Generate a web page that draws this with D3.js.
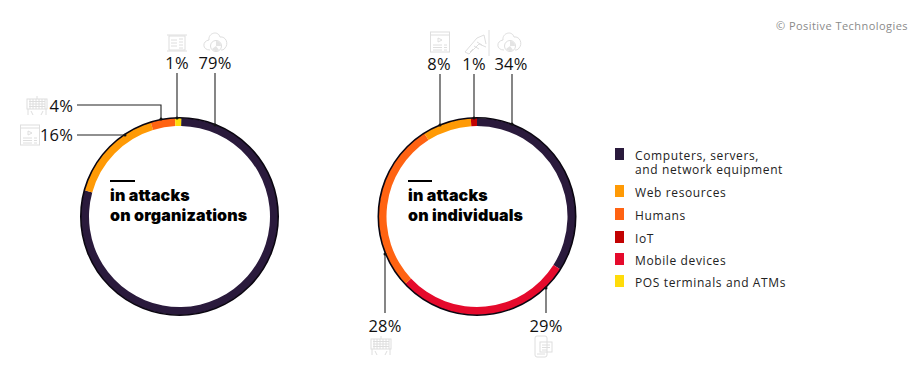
<!DOCTYPE html>
<html>
<head>
<meta charset="utf-8">
<script src="https://cdn.jsdelivr.net/npm/d3@7"></script>
<style>
html, body { margin: 0; padding: 0; background: #fff; }
text { font-family: "Open Sans", sans-serif; fill: #111; }
.pct { font-size: 16.5px; letter-spacing: 0.2px; }
.legend text { font-size: 12px; letter-spacing: 0.62px; fill: #222; }
.title { font-family: Inter, sans-serif; font-size: 16px; font-weight: 900; fill: #000; letter-spacing: 0.15px; }
.credit { font-size: 11px; fill: #8a8a8a; letter-spacing: 0.45px; }
.icon * { fill: none; stroke: #dedede; stroke-width: 1; }
.icon .solid { fill: #e4e4e4; stroke: none; }
</style>
</head>
<body>
<svg id="chart" width="920" height="379"></svg>
<script>
const WIDTH = 920;
const HEIGHT = 379;
const RADIUS = 99.5;
const BAND = 9;

var categories = ['Computers, servers,\nand network equipment', 'Web resources', 'Humans', 'IoT', 'Mobile devices', 'POS terminals and ATMs'];
var colors = ['#2a1a3c', '#ff9a05', '#ff6312', '#c20202', '#e50a2c', '#ffdc0a'];

// clockwise order, as on the rings
var orgCategories = [0, 1, 2, 5];
var orgValues = [79, 16, 4, 1];
var indCategories = [0, 4, 2, 1, 3];
var indValues = [34, 29, 28, 8, 1];

var svg = d3.select('#chart');
var colorScale = d3.scaleOrdinal().domain(d3.range(categories.length)).range(colors);

var translate = function (x, y) {
    return 'translate(' + x + ',' + y + ')';
};

var drawRing = function (cx, cy, cats, values, startDeg) {
    var start = startDeg * Math.PI / 180;
    var pie = d3.pie().sort(null).startAngle(start).endAngle(start + 2 * Math.PI);
    var arc = d3.arc().innerRadius(RADIUS - BAND).outerRadius(RADIUS - 1);
    var g = svg.append('g').attr('transform', translate(cx, cy));
    g.selectAll('path').data(pie(values)).enter().append('path')
        .attr('d', arc)
        .attr('fill', function (d, i) { return colorScale(cats[i]); });
    g.append('circle')
        .attr('r', RADIUS - 0.8)
        .attr('fill', 'none')
        .attr('stroke', '#0a0510')
        .attr('stroke-width', 1.6);
};

drawRing(179.5, 216.5, orgCategories, orgValues, 1);
drawRing(477, 216.5, indCategories, indValues, 0);

// leader lines
var leader = function (pts) {
    svg.append('path')
        .attr('d', d3.line()(pts))
        .attr('fill', 'none')
        .attr('stroke', '#222')
        .attr('stroke-width', 1.1);
    var end = pts[pts.length - 1];
    svg.append('circle').attr('cx', end[0]).attr('cy', end[1]).attr('r', 1.5).attr('fill', '#111');
};
leader([[215, 73], [215, 125]]);
leader([[177, 73], [177, 118]]);
leader([[77, 105], [161, 105], [161, 119]]);
leader([[77, 135], [125, 135]]);
leader([[440, 74], [440, 125]]);
leader([[474, 74], [474, 118]]);
leader([[512, 74], [512, 124]]);
leader([[385, 313], [385, 254]]);
leader([[546, 313], [546, 288]]);

// value labels
var label = function (x, y, value, anchor) {
    svg.append('text')
        .attr('class', 'pct')
        .attr('x', x)
        .attr('y', y)
        .attr('text-anchor', anchor)
        .text(value + '%');
};
label(177, 69, orgValues[3], 'middle');
label(215, 69, orgValues[0], 'middle');
label(73, 112, orgValues[2], 'end');
label(73, 141, orgValues[1], 'end');
label(439, 70, indValues[3], 'middle');
label(474, 70, indValues[4], 'middle');
label(511, 70, indValues[0], 'middle');
label(385, 332, indValues[2], 'middle');
label(546, 332, indValues[1], 'middle');

// pale icons
var iconCloud = function (g) {
    g.append('path').attr('d', 'M-5,8 C-13,8 -13,-1 -6,-2 C-7,-9 3,-12 5,-5 C11,-6 14,2 10,6 C9,8 7,8 6,8');
    g.append('circle').attr('cx', 1).attr('cy', 4).attr('r', 5.5);
    g.append('path').attr('class', 'solid').attr('d', 'M1,4 V-1 A5,5 0 0 1 6,4 Z');
    g.append('path').attr('class', 'solid').attr('d', 'M1,4 L4,8 A5,5 0 0 1 -3,7 Z');
};
var iconTerminal = function (g) {
    g.append('rect').attr('x', -8).attr('y', -7).attr('width', 16).attr('height', 14);
    g.append('path').attr('d', 'M-10,-8 H10 M-10,8 H10 M-6,-3 H0 M-6,0 H0 M-6,3 H0 M2,-4 H6 M2,-1 H6 M2,2 H6 M2,5 H6');
};
var iconBrowser = function (g) {
    g.append('rect').attr('x', -9.5).attr('y', -10).attr('width', 19).attr('height', 20);
    g.append('path').attr('d', 'M-9.5,-7 H9.5 M-7,3 H2 M-7,5.5 H2 M-7,8 H2 M4,3 H7 M4,5.5 H7 M4,8 H7 M-2,-4 L2,-2 L-2,0 Z');
};
var iconKeyboard = function (g) {
    g.append('rect').attr('x', -10).attr('y', -6).attr('width', 20).attr('height', 10);
    g.append('path').attr('d', 'M0,-6 V-9 M-8,-3.5 H8 M-8,-1 H8 M-8,1.5 H8 M-7,-6 V4 M-4,-6 V4 M-1,-6 V4 M2,-6 V4 M5,-6 V4 M8,-6 V4 M-9,4 V10 M-6,6 L-4,10 M9,4 V10 M6,6 L4,10');
};
var iconArm = function (g) {
    g.append('path').attr('d', 'M12,-13 V13 M-12,9 L0,-5 L7,-8 L9,1 M-8,11 L2,1 L9,4 M-12,9 L-8,11 M-3,3 L2,6 M0,-1 L5,2 M-7,9 L-4,6');
};
var iconPhone = function (g) {
    g.append('rect').attr('x', -8).attr('y', -10).attr('width', 12).attr('height', 21).attr('rx', 2);
    g.append('rect').attr('x', -3).attr('y', -4).attr('width', 12).attr('height', 10);
    g.append('path').attr('d', 'M-1,-1 H7 M-1,1.5 H7 M-1,4 H4 M-6,8 H2');
};
var placeIcon = function (draw, x, y) {
    draw(svg.append('g').attr('class', 'icon').attr('transform', translate(x, y)));
};
placeIcon(iconTerminal, 177, 43);
placeIcon(iconCloud, 215, 42);
placeIcon(iconKeyboard, 37, 105);
placeIcon(iconBrowser, 30, 135);
placeIcon(iconBrowser, 440, 42);
placeIcon(iconArm, 477, 43);
placeIcon(iconCloud, 509, 42);
placeIcon(iconKeyboard, 381, 345);
placeIcon(iconPhone, 543, 346);

// ring captions
var caption = function (x, lines, lineEnd) {
    svg.append('rect').attr('x', x).attr('y', 180).attr('width', lineEnd - x).attr('height', 2).attr('fill', '#000');
    svg.selectAll(null).data(lines).enter().append('text')
        .attr('class', 'title')
        .attr('x', x)
        .attr('y', function (d, i) { return 201 + i * 19.5; })
        .text(function (d) { return d; });
};
caption(110, ['in attacks', 'on organizations'], 135);
caption(408, ['in attacks', 'on individuals'], 432);

// legend
var legendRows = [148, 185, 208, 231, 253, 275];
var legend = svg.append('g').attr('class', 'legend');
var rows = legend.selectAll('g').data(categories).enter().append('g')
    .attr('transform', function (d, i) { return translate(615, legendRows[i]); });
rows.append('rect')
    .attr('width', 9)
    .attr('height', 12)
    .attr('fill', function (d, i) { return colors[i]; });
rows.append('text')
    .attr('y', 12)
    .each(function (d) {
        var t = d3.select(this);
        d.split('\n').forEach(function (line, i) {
            t.append('tspan').attr('x', 20).attr('dy', i ? 13.5 : 0).text(line);
        });
    });

svg.append('text')
    .attr('class', 'credit')
    .attr('x', 908)
    .attr('y', 30)
    .attr('text-anchor', 'end')
    .text('© Positive Technologies');
</script>
</body>
</html>
